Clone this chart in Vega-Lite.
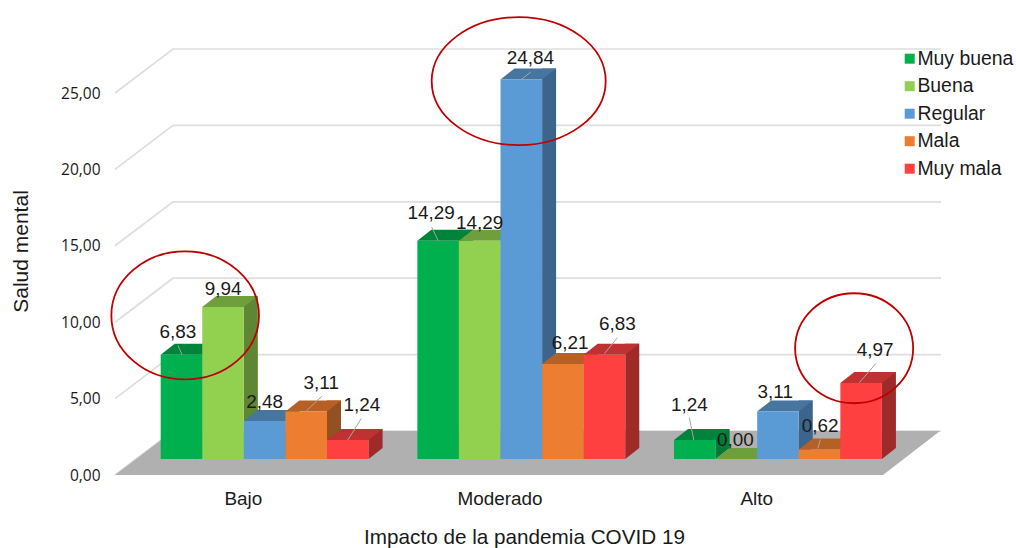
{
  "$schema": "https://vega.github.io/schema/vega-lite/v6.json",
  "width": 770,
  "height": 382,
  "autosize": {"type": "none"},
  "padding": {"left": 115, "top": 93, "right": 131, "bottom": 73},
  "background": "white",
  "config": {
    "view": {"stroke": null},
    "text": {"font": "Liberation Sans", "fontSize": 18.9, "color": "#1a1a1a", "baseline": "middle", "align": "center"}
  },
  "datasets": {
    "salud": [
      {"clave": "Bajo/Muy buena", "grupo": "Bajo", "serie": "Muy buena", "valor": 6.83, "rotulo": "6,83"},
      {"clave": "Bajo/Buena", "grupo": "Bajo", "serie": "Buena", "valor": 9.94, "rotulo": "9,94"},
      {"clave": "Bajo/Regular", "grupo": "Bajo", "serie": "Regular", "valor": 2.48, "rotulo": "2,48"},
      {"clave": "Bajo/Mala", "grupo": "Bajo", "serie": "Mala", "valor": 3.11, "rotulo": "3,11"},
      {"clave": "Bajo/Muy mala", "grupo": "Bajo", "serie": "Muy mala", "valor": 1.24, "rotulo": "1,24"},
      {"clave": "Moderado/Muy buena", "grupo": "Moderado", "serie": "Muy buena", "valor": 14.29, "rotulo": "14,29"},
      {"clave": "Moderado/Buena", "grupo": "Moderado", "serie": "Buena", "valor": 14.29, "rotulo": "14,29"},
      {"clave": "Moderado/Regular", "grupo": "Moderado", "serie": "Regular", "valor": 24.84, "rotulo": "24,84"},
      {"clave": "Moderado/Mala", "grupo": "Moderado", "serie": "Mala", "valor": 6.21, "rotulo": "6,21"},
      {"clave": "Moderado/Muy mala", "grupo": "Moderado", "serie": "Muy mala", "valor": 6.83, "rotulo": "6,83"},
      {"clave": "Alto/Muy buena", "grupo": "Alto", "serie": "Muy buena", "valor": 1.24, "rotulo": "1,24"},
      {"clave": "Alto/Buena", "grupo": "Alto", "serie": "Buena", "valor": 0.0, "rotulo": "0,00"},
      {"clave": "Alto/Regular", "grupo": "Alto", "serie": "Regular", "valor": 3.11, "rotulo": "3,11"},
      {"clave": "Alto/Mala", "grupo": "Alto", "serie": "Mala", "valor": 0.62, "rotulo": "0,62"},
      {"clave": "Alto/Muy mala", "grupo": "Alto", "serie": "Muy mala", "valor": 4.97, "rotulo": "4,97"}
    ],
    "escala": [{"valor": 0}, {"valor": 5}, {"valor": 10}, {"valor": 15}, {"valor": 20}, {"valor": 25}],
    "base": [{"valor": 0}]
  },
  "encoding": {
    "y": {
      "field": "valor",
      "type": "quantitative",
      "stack": null,
      "scale": {"domain": [0, 25], "nice": false},
      "axis": {
        "title": "Salud mental",
        "values": [0, 5, 10, 15, 20, 25],
        "grid": false,
        "domain": false,
        "ticks": false,
        "labelExpr": "replace(format(datum.value, '.2f'), '.', ',')",
        "labelFont": "Open Sans",
        "labelFontSize": 15.5,
        "labelColor": "#1a1a1a",
        "labelPadding": 15,
        "titleFont": "Liberation Sans",
        "titleFontSize": 21,
        "titleFontWeight": "normal",
        "titleColor": "#1a1a1a",
        "titleX": -94,
        "titleY": 158,
        "titleBaseline": "middle"
      }
    }
  },
  "layer": [
    {
      "description": "Back wall gridlines, running up the side wall and across the back",
      "data": {"name": "escala"},
      "mark": {"type": "point", "shape": "M-385 0L-327 -44L441 -44", "size": 4, "filled": false, "stroke": "#dedede", "strokeWidth": 1.7, "opacity": 1}
    },
    {
      "description": "Grey floor of the 3D box",
      "data": {"name": "base"},
      "mark": {"type": "point", "shape": "M-385 0L-327 -44L440 -44L383 0Z", "size": 4, "filled": true, "fill": "#b0b0b0", "strokeWidth": 0, "opacity": 1}
    },
    {
      "data": {"name": "salud"},
      "resolve": {"scale": {"fill": "independent", "xOffset": "independent"}},
      "encoding": {
        "x": {
          "field": "grupo",
          "type": "nominal",
          "scale": {"domain": ["Bajo", "Moderado", "Alto"], "paddingInner": 0.19, "paddingOuter": 0.095},
          "axis": {
            "title": "Impacto de la pandemia COVID 19",
            "labelAngle": 0,
            "domain": false,
            "ticks": false,
            "labelFont": "Liberation Sans",
            "labelFontSize": 18.9,
            "labelColor": "#1a1a1a",
            "labelPadding": 14,
            "titleFont": "Liberation Sans",
            "titleFontSize": 20.7,
            "titleFontWeight": "normal",
            "titleColor": "#1a1a1a",
            "titleX": 409,
            "titleY": 62,
            "titleBaseline": "middle"
          }
        },
        "xOffset": {"field": "serie", "type": "nominal", "scale": {"domain": ["Muy buena", "Buena", "Regular", "Mala", "Muy mala"], "range": [21.3, 229.2]}}
      },
      "layer": [
        {
          "description": "Right-hand faces of the bars",
          "mark": {"type": "bar", "width": 14, "yOffset": -27, "y2Offset": -27},
          "encoding": {
            "y2": {"datum": 0},
            "xOffset": {"field": "serie", "type": "nominal", "scale": {"domain": ["Muy buena", "Buena", "Regular", "Mala", "Muy mala"], "range": [49.1, 257]}},
            "fill": {"field": "serie", "type": "nominal", "legend": null, "scale": {"domain": ["Muy buena", "Buena", "Regular", "Mala", "Muy mala"], "range": ["#007a37", "#5e8635", "#3d648a", "#935020", "#9e2a2a"]}}
          }
        },
        {
          "description": "Slanted foot of each right-hand face",
          "mark": {"type": "point", "shape": "M20.8 0L20.8 -11L34.8 -11Z", "size": 4, "filled": true, "strokeWidth": 0, "opacity": 1, "yOffset": -16},
          "encoding": {
            "y": {
              "datum": 0,
              "type": "quantitative",
              "axis": {
                "title": "Salud mental",
                "values": [0, 5, 10, 15, 20, 25],
                "grid": false,
                "domain": false,
                "ticks": false,
                "labelExpr": "replace(format(datum.value, '.2f'), '.', ',')",
                "labelFont": "Open Sans",
                "labelFontSize": 15.5,
                "labelColor": "#1a1a1a",
                "labelPadding": 15,
                "titleFont": "Liberation Sans",
                "titleFontSize": 21,
                "titleFontWeight": "normal",
                "titleColor": "#1a1a1a",
                "titleX": -94,
                "titleY": 158,
                "titleBaseline": "middle"
              }
            },
            "fill": {"field": "serie", "type": "nominal", "legend": null, "scale": {"domain": ["Muy buena", "Buena", "Regular", "Mala", "Muy mala"], "range": ["#007a37", "#5e8635", "#3d648a", "#935020", "#9e2a2a"]}}
          }
        },
        {
          "description": "Top faces of the bars",
          "mark": {"type": "point", "shape": "M-20.8 0L20.8 0L34.8 -11L-6.8 -11Z", "size": 4, "filled": true, "strokeWidth": 0, "opacity": 1, "yOffset": -16},
          "encoding": {"fill": {"field": "serie", "type": "nominal", "legend": null, "scale": {"domain": ["Muy buena", "Buena", "Regular", "Mala", "Muy mala"], "range": ["#00843b", "#6f9e3d", "#4675a0", "#b66026", "#c03232"]}}}
        },
        {
          "description": "Front faces of the bars",
          "mark": {"type": "bar", "yOffset": -16, "y2Offset": -16},
          "encoding": {
            "y2": {"datum": 0},
            "fill": {
              "field": "serie",
              "type": "nominal",
              "scale": {"domain": ["Muy buena", "Buena", "Regular", "Mala", "Muy mala"], "range": ["#00b04f", "#92d050", "#5b9bd5", "#ed7d31", "#ff4040"]},
              "legend": {
                "title": null,
                "orient": "none",
                "legendX": 785,
                "legendY": -44,
                "padding": 0,
                "symbolType": "square",
                "symbolSize": 100,
                "symbolStrokeWidth": 0,
                "labelFont": "Liberation Sans",
                "labelFontSize": 19.4,
                "labelColor": "#1a1a1a",
                "labelOffset": -2,
                "rowPadding": 6.5
              }
            }
          }
        },
        {
          "description": "Leader lines from the value labels to their bars",
          "transform": [{"filter": {"field": "clave", "oneOf": ["Bajo/Muy buena", "Bajo/Mala", "Bajo/Muy mala", "Moderado/Muy buena", "Moderado/Regular", "Moderado/Muy mala", "Alto/Muy buena", "Alto/Mala", "Alto/Muy mala"]}}],
          "mark": {"type": "point", "size": 4, "filled": false, "stroke": "#a6a6a6", "strokeWidth": 1, "opacity": 1, "yOffset": -16},
          "encoding": {
            "shape": {
              "field": "clave",
              "type": "nominal",
              "legend": null,
              "scale": {
                "domain": ["Bajo/Muy buena", "Bajo/Mala", "Bajo/Muy mala", "Moderado/Muy buena", "Moderado/Regular", "Moderado/Muy mala", "Alto/Muy buena", "Alto/Mala", "Alto/Muy mala"],
                "range": ["M-3.5 -9.3L0.5 0", "M15.7 -15.2L0 -0.5", "M13.5 -21.5L0 0", "M-6.5 -13.7L0 0", "M9.6 -7.6L0 0", "M13 -17L0 -1", "M-5.5 -22.5L-1 0", "M0.7 -10L-1.6 -1", "M14.7 -19.5L-1.7 -0.5"]
              }
            }
          }
        },
        {"transform": [{"filter": {"field": "clave", "equal": "Bajo/Muy buena"}}], "mark": {"type": "text", "dx": -3.5, "yOffset": -38.6}, "encoding": {"text": {"field": "rotulo"}}},
        {"transform": [{"filter": {"field": "clave", "equal": "Bajo/Buena"}}], "mark": {"type": "text", "dx": 0, "yOffset": -33.7}, "encoding": {"text": {"field": "rotulo"}}},
        {"transform": [{"filter": {"field": "clave", "equal": "Bajo/Regular"}}], "mark": {"type": "text", "dx": 0, "yOffset": -35}, "encoding": {"text": {"field": "rotulo"}}},
        {"transform": [{"filter": {"field": "clave", "equal": "Bajo/Mala"}}], "mark": {"type": "text", "dx": 15, "yOffset": -44.5}, "encoding": {"text": {"field": "rotulo"}}},
        {"transform": [{"filter": {"field": "clave", "equal": "Bajo/Muy mala"}}], "mark": {"type": "text", "dx": 14, "yOffset": -50.8}, "encoding": {"text": {"field": "rotulo"}}},
        {"transform": [{"filter": {"field": "clave", "equal": "Moderado/Muy buena"}}], "mark": {"type": "text", "dx": -7, "yOffset": -43.7}, "encoding": {"text": {"field": "rotulo"}}},
        {"transform": [{"filter": {"field": "clave", "equal": "Moderado/Buena"}}], "mark": {"type": "text", "dx": 0, "yOffset": -33.7}, "encoding": {"text": {"field": "rotulo"}}},
        {"transform": [{"filter": {"field": "clave", "equal": "Moderado/Regular"}}], "mark": {"type": "text", "dx": 9, "yOffset": -37}, "encoding": {"text": {"field": "rotulo"}}},
        {"transform": [{"filter": {"field": "clave", "equal": "Moderado/Mala"}}], "mark": {"type": "text", "dx": 7.3, "yOffset": -37}, "encoding": {"text": {"field": "rotulo"}}},
        {"transform": [{"filter": {"field": "clave", "equal": "Moderado/Muy mala"}}], "mark": {"type": "text", "dx": 13, "yOffset": -46.3}, "encoding": {"text": {"field": "rotulo"}}},
        {"transform": [{"filter": {"field": "clave", "equal": "Alto/Muy buena"}}], "mark": {"type": "text", "dx": -5.5, "yOffset": -51.5}, "encoding": {"text": {"field": "rotulo"}}},
        {"transform": [{"filter": {"field": "clave", "equal": "Alto/Buena"}}], "mark": {"type": "text", "dx": -1, "yOffset": -34.7}, "encoding": {"text": {"field": "rotulo"}}},
        {"transform": [{"filter": {"field": "clave", "equal": "Alto/Regular"}}], "mark": {"type": "text", "dx": -2.7, "yOffset": -35.5}, "encoding": {"text": {"field": "rotulo"}}},
        {"transform": [{"filter": {"field": "clave", "equal": "Alto/Mala"}}], "mark": {"type": "text", "dx": 0.7, "yOffset": -39.5}, "encoding": {"text": {"field": "rotulo"}}},
        {"transform": [{"filter": {"field": "clave", "equal": "Alto/Muy mala"}}], "mark": {"type": "text", "dx": 14, "yOffset": -49.5}, "encoding": {"text": {"field": "rotulo"}}},
        {
          "description": "Red ring highlighting the Buena bar in the low-impact group",
          "transform": [{"filter": {"field": "clave", "equal": "Bajo/Buena"}}],
          "mark": {"type": "point", "shape": "M-111.7 8.3A73.8 64 0 1 0 35.9 8.3A73.8 64 0 1 0 -111.7 8.3Z", "size": 4, "filled": false, "stroke": "#c00000", "strokeWidth": 1.8, "opacity": 1, "yOffset": -16}
        },
        {
          "description": "Red ring highlighting the Regular bar in the moderate-impact group",
          "transform": [{"filter": {"field": "clave", "equal": "Moderado/Regular"}}],
          "mark": {"type": "point", "shape": "M-89.6 1.7A87 64 0 1 0 84.4 1.7A87 64 0 1 0 -89.6 1.7Z", "size": 4, "filled": false, "stroke": "#c00000", "strokeWidth": 1.8, "opacity": 1, "yOffset": -16}
        },
        {
          "description": "Red ring highlighting the Muy mala bar in the high-impact group",
          "transform": [{"filter": {"field": "clave", "equal": "Alto/Muy mala"}}],
          "mark": {"type": "point", "shape": "M-66 -34.8A59 55 0 1 0 52 -34.8A59 55 0 1 0 -66 -34.8Z", "size": 4, "filled": false, "stroke": "#c00000", "strokeWidth": 1.8, "opacity": 1, "yOffset": -16}
        }
      ]
    }
  ]
}
